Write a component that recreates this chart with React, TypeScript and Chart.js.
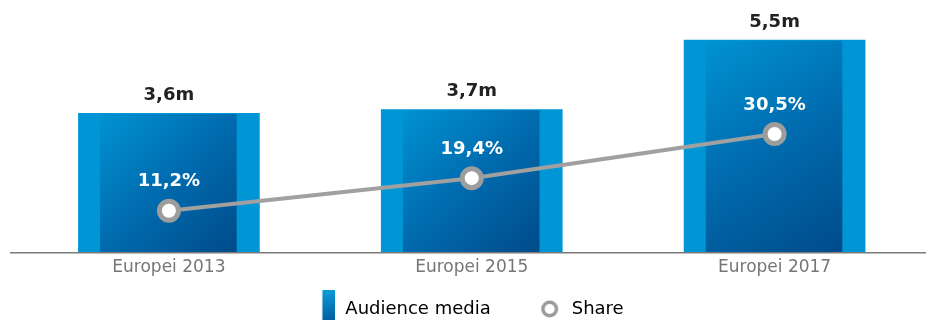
import React, { useEffect, useRef } from 'react';
import { Chart, registerables } from 'chart.js';

Chart.register(...registerables);

const categories = ['Europei 2013', 'Europei 2015', 'Europei 2017'];
const audience = [3.6, 3.7, 5.5];
const share = [11.2, 19.4, 30.5];
const seriesNames = ['Audience media', 'Share'];

const FONT = '"DejaVu Sans", sans-serif';
const fmt = (v: number) => v.toFixed(1).replace('.', ',');

function makeCanvas(w: number, h: number, draw: (ctx: CanvasRenderingContext2D) => void) {
  const c = document.createElement('canvas');
  c.width = w;
  c.height = h;
  draw(c.getContext('2d') as CanvasRenderingContext2D);
  return c;
}

const zeroPad = (s: any) => {
  s.paddingLeft = 0;
  s.paddingRight = 0;
  s.paddingTop = 0;
  s.paddingBottom = 0;
};

export default function App() {
  const ref = useRef<HTMLCanvasElement>(null);

  useEffect(() => {
    if (!ref.current) return;

    const barIcon = makeCanvas(31, 38, (ctx) => {
      const g = ctx.createLinearGradient(0, 0, 0, 38);
      g.addColorStop(0, '#0a9bd9');
      g.addColorStop(1, '#00508f');
      ctx.fillStyle = g;
      ctx.fillRect(18.5, 0, 12.5, 38);
    });
    const shareIcon = makeCanvas(27, 22, (ctx) => {
      ctx.beginPath();
      ctx.arc(17.45, 11, 6.75, 0, Math.PI * 2);
      ctx.fillStyle = '#ffffff';
      ctx.fill();
      ctx.lineWidth = 3.5;
      ctx.strokeStyle = '#9b9b9b';
      ctx.stroke();
    });

    const customPlugin = {
      id: 'customDecor',
      afterLayout(chart: any) {
        const sx = chart.scales.x;
        sx.bottom = sx.top + 40;
        sx.height = 40;
      },
      beforeDatasetsDraw(chart: any) {
        const ctx = chart.ctx;
        const bottom = chart.chartArea.bottom;
        ctx.save();
        ctx.strokeStyle = '#7a7a7a';
        ctx.lineWidth = 1.5;
        ctx.beginPath();
        ctx.moveTo(10, bottom + 0.75);
        ctx.lineTo(chart.width, bottom + 0.75);
        ctx.stroke();
        ctx.restore();
      },
      afterDatasetDraw(chart: any, args: any) {
        if (args.index !== 0) return;
        const ctx = chart.ctx;
        const meta = chart.getDatasetMeta(0);
        ctx.save();
        meta.data.forEach((bar: any) => {
          const { x, y, base, width } = bar.getProps(['x', 'y', 'base', 'width'], true);
          const left = x - width / 2;
          const x0 = left + width * 0.121;
          const x1 = left + width * 0.873;
          const g = ctx.createLinearGradient(x0, y, x1, base);
          g.addColorStop(0, '#0093d3');
          g.addColorStop(0.5, '#006bae');
          g.addColorStop(1, '#004b8a');
          ctx.fillStyle = g;
          ctx.fillRect(x0, y + 1, x1 - x0, base - y - 1);
        });
        ctx.restore();
      },
      afterDatasetsDraw(chart: any) {
        const ctx = chart.ctx;
        ctx.save();
        ctx.textAlign = 'center';
        ctx.textBaseline = 'alphabetic';
        const bars = chart.getDatasetMeta(0).data;
        ctx.font = `bold 18px ${FONT}`;
        ctx.fillStyle = '#222222';
        bars.forEach((bar: any, i: number) => {
          ctx.fillText(fmt(audience[i]) + 'm', bar.x, bar.y - 13);
        });
        const pts = chart.getDatasetMeta(1).data;
        ctx.fillStyle = '#ffffff';
        pts.forEach((p: any, i: number) => {
          ctx.fillText(fmt(share[i]) + '%', p.x, p.y - 24.5);
        });
        ctx.restore();
      },
    };

    const chart = new Chart(ref.current, {
      type: 'bar',
      data: {
        labels: categories,
        datasets: [
          {
            type: 'bar',
            label: seriesNames[0],
            data: audience,
            backgroundColor: '#0096d6',
            borderWidth: 0,
            yAxisID: 'y',
            order: 2,
            barPercentage: 0.6,
            categoryPercentage: 1,
          } as any,
          {
            type: 'line',
            label: seriesNames[1],
            data: share,
            yAxisID: 'y2',
            borderColor: '#a0a0a0',
            borderWidth: 4,
            pointRadius: 9.5,
            pointBorderWidth: 5,
            pointBackgroundColor: '#ffffff',
            pointBorderColor: '#9d9d9d',
            tension: 0,
            order: 1,
          } as any,
        ],
      },
      options: {
        animation: false,
        responsive: false,
        events: [],
        layout: { padding: 0, autoPadding: false },
        scales: {
          x: {
            type: 'category',
            offset: true,
            grid: { display: false, drawTicks: false },
            border: { display: false },
            ticks: { font: { family: FONT, size: 17 }, color: '#767676', padding: 5 },
            afterFit: (s: any) => {
              s.height = 10;
              zeroPad(s);
            },
          },
          y: {
            min: 0,
            max: 6.53,
            display: true,
            ticks: { display: false },
            grid: { display: false, drawTicks: false },
            border: { display: false },
            afterFit: (s: any) => {
              s.width = 17.5;
              zeroPad(s);
            },
          },
          y2: {
            min: 0.82,
            max: 64.23,
            display: false,
            position: 'right',
            afterFit: (s: any) => {
              zeroPad(s);
            },
          },
        },
        plugins: {
          tooltip: { enabled: false },
          legend: {
            position: 'bottom',
            labels: {
              usePointStyle: true,
              pointStyleWidth: 34,
              padding: 38,
              color: '#333333',
              font: { family: FONT, size: 18 },
              generateLabels: () => [
                {
                  text: seriesNames[0],
                  pointStyle: barIcon,
                  fillStyle: 'transparent',
                  strokeStyle: 'transparent',
                  lineWidth: 0,
                  hidden: false,
                  datasetIndex: 0,
                } as any,
                {
                  text: seriesNames[1],
                  pointStyle: shareIcon,
                  fillStyle: 'transparent',
                  strokeStyle: 'transparent',
                  lineWidth: 0,
                  hidden: false,
                  datasetIndex: 1,
                } as any,
              ],
            },
          },
        },
      } as any,
      plugins: [customPlugin],
    });

    return () => chart.destroy();
  }, []);

  return (
    <div style={{ position: 'fixed', left: 0, top: 0, width: 926, height: 328 }}>
      <canvas ref={ref} width={926} height={328} style={{ display: 'block' }} />
    </div>
  );
}
